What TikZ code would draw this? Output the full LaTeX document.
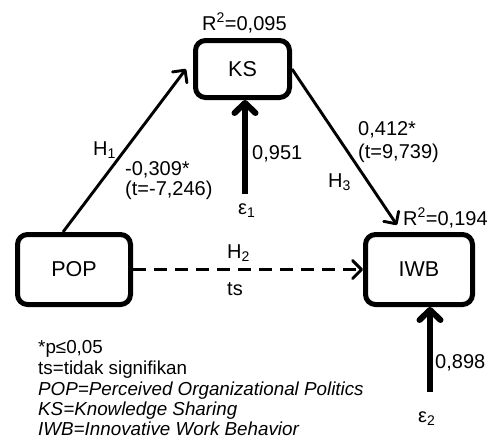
\documentclass[tikz,border=0pt]{standalone}
\usepackage{fontspec}
\setmainfont{Liberation Sans}
\usetikzlibrary{arrows.meta}
\begin{document}
\begin{tikzpicture}[x=1pt,y=-1pt,
 box/.style={draw, line width=5pt, rounded corners=10pt, inner sep=0pt, font=\fontsize{21.5}{24}\selectfont},
 lbl/.style={inner sep=0pt, anchor=base west, font=\fontsize{20}{24}\selectfont},
 leg/.style={inner sep=0pt, anchor=base west, font=\fontsize{18.8}{22}\selectfont},
 harrow/.style={line width=2.9pt, -{Straight Barb[length=9pt,width=18pt,round]}},
 earrow/.style={line width=6pt, -{Straight Barb[length=10pt,width=21pt,round]}},
]
\useasboundingbox (0,0) rectangle (491,440);
% boxes
\node[box, minimum width=94pt, minimum height=57pt] (ks) at (242.5,69) {KS};
\node[box, minimum width=113pt, minimum height=70pt] (pop) at (74,269.5) {POP};
\node[box, minimum width=107pt, minimum height=70pt] (iwb) at (419,269.5) {IWB};
% labels
\node[lbl] (r1) at (202,30) {R\textsuperscript{2}=0,095};
\node[lbl] (r2) at (403,225) {R\textsuperscript{2}=0,194};
\node[lbl] (h1) at (93,155) {H\textsubscript{1}};
\node[lbl] (c1a) at (125,175) {-0,309*};
\node[lbl] (c1b) at (125,195) {(t=-7,246)};
\node[lbl] (c2) at (252,159) {0,951};
\node[lbl] (c3a) at (358,135) {0,412*};
\node[lbl] (c3b) at (358,158) {(t=9,739)};
\node[lbl] (h3) at (328,187) {H\textsubscript{3}};
\node[lbl] (h2) at (227,258) {H\textsubscript{2}};
\node[lbl] (ts) at (227,295) {ts};
\node[lbl] (c4) at (435,368) {0,898};
\node[lbl] (e1) at (238,214) {ε\textsubscript{1}};
\node[lbl] (e2) at (418,422) {ε\textsubscript{2}};
% legend
\node[leg] (l1) at (38,353) {*p≤0,05};
\node[leg] (l2) at (38,374) {ts=tidak signifikan};
\node[leg] (l3) at (38,395) {\itshape POP=Perceived Organizational Politics};
\node[leg] (l4) at (38,415.5) {\itshape KS=Knowledge Sharing};
\node[leg] (l5) at (38,435.5) {\itshape IWB=Innovative Work Behavior};
% connectors
\coordinate (e1s) at (245,194);
\coordinate (e2s) at (430,392);
\draw[harrow] ([xshift=-11pt]pop.north) -- ([xshift=-7pt]ks.west);
\draw[harrow] (ks.east) -- ([xshift=-22pt,yshift=7pt]iwb.north);
\draw[harrow, dash pattern=on 13pt off 8pt] (pop.east) -- (iwb.west);
\draw[earrow] (e1s) -- (e1s |- ks.south);
\draw[earrow] (e2s) -- (e2s |- iwb.south);
\end{tikzpicture}
\end{document}
